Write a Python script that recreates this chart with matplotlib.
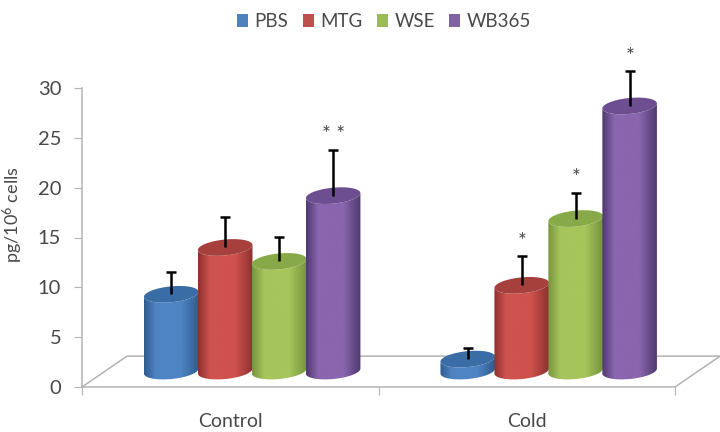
import numpy as np
import matplotlib
matplotlib.use('Agg')
import matplotlib.pyplot as plt
from matplotlib.colors import LinearSegmentedColormap
from matplotlib.patches import Patch, PathPatch
from matplotlib.path import Path

plt.rcParams['font.family'] = ['Lato', 'DejaVu Sans']
plt.rcParams['mathtext.default'] = 'regular'
TXT = '#484848'
GREY = '#b4b4b4'

groups = ['Control', 'Cold']
series = ['PBS', 'MTG', 'WSE', 'WB365']
values = {
    'PBS': [9.3, 2.8],
    'MTG': [14.0, 10.2],
    'WSE': [12.6, 16.9],
    'WB365': [19.2, 28.2],
}
err_tops = {
    'PBS': [11.5, 3.9],
    'MTG': [17.1, 13.1],
    'WSE': [15.1, 19.5],
    'WB365': [23.8, 31.7],
}
stars = {
    'PBS': ['', ''],
    'MTG': ['', '*'],
    'WSE': ['', '*'],
    'WB365': ['* *', '*'],
}
# edge, centre, cap colour
colors = {
    'PBS': ('#2f5c8f', '#4f84c4', '#3a6ca6'),
    'MTG': ('#8c312f', '#cf524e', '#a5403d'),
    'WSE': ('#76953d', '#a6c55b', '#88a947'),
    'WB365': ('#4f396e', '#8966ae', '#6c4e91'),
}
legend_colors = ['#4f81bd', '#c0504d', '#9bbb59', '#8064a2']

BAR_W = 0.184
X_SHIFT = 0.074
BASE = 1.6
CAP_H = 0.8
TILT = 0.25
DX_FLOOR = 0.152
DY_FLOOR = 3.1


def ellipse(cx, y, t):
    return cx + BAR_W / 2 * np.cos(t), y + CAP_H * np.sin(t) + TILT * np.cos(t)


def draw_cylinder(ax, cx, top, cols):
    t = np.linspace(np.pi, 2 * np.pi, 40)
    bx, by = ellipse(cx, BASE, t)
    tx, ty = ellipse(cx, top, t[::-1])
    verts = list(zip(bx, by)) + list(zip(tx, ty)) + [(bx[0], by[0])]
    codes = [Path.MOVETO] + [Path.LINETO] * (len(verts) - 1)
    clip = PathPatch(Path(verts, codes), fc='none', ec='none', transform=ax.transData)
    ax.add_patch(clip)
    cmap = LinearSegmentedColormap.from_list('c', [(0, cols[0]), (0.22, cols[1]), (0.68, cols[1]), (1, cols[0])])
    im = ax.imshow(np.linspace(0, 1, 128)[None, :], extent=(cx - BAR_W / 2, cx + BAR_W / 2, BASE - 2, top + 2),
                   cmap=cmap, aspect='auto', zorder=3, interpolation='bilinear')
    im.set_clip_path(clip)
    ct = np.linspace(0, 2 * np.pi, 80)
    ex, ey = ellipse(cx, top, ct)
    ax.fill(ex, ey, color=cols[2], lw=0, zorder=3)


fig = plt.figure(figsize=(7.2, 4.32), dpi=100)
ax = fig.add_axes([82 / 720, 45 / 432, 593 / 720, 299 / 432])

# floor
ax.plot([-0.5, -0.5 + DX_FLOOR, 1.5 + DX_FLOOR, 1.5], [0, DY_FLOOR, DY_FLOOR, 0],
        color=GREY, lw=1.1, clip_on=False, zorder=1)

for g in range(len(groups)):
    for s, name in enumerate(series):
        cx = g + X_SHIFT + (s - 1.5) * 0.182
        top = values[name][g]
        et = err_tops[name][g]
        draw_cylinder(ax, cx, top, colors[name])
        ax.plot([cx, cx], [top, et], color='black', lw=1.8, zorder=4, clip_on=False, solid_capstyle='butt')
        ax.plot([cx - 0.0165, cx + 0.0165], [et, et], color='black', lw=1.8, zorder=4, clip_on=False,
                solid_capstyle='butt')
        if stars[name][g]:
            ax.text(cx, et + 1.45, stars[name][g], ha='center', va='center', fontsize=15,
                    color=TXT, clip_on=False)

ax.set_xlim(-0.5, 1.5)
ax.set_ylim(0, 30)
ax.set_yticks(range(0, 31, 5))
ax.set_xticks([-0.5, 0.5, 1.5])
ax.set_xticklabels([])
ax.set_xticks([0, 1], minor=True)
ax.set_xticklabels(groups, minor=True)
ax.tick_params(axis='x', which='minor', length=0, pad=19, labelsize=14, labelcolor=TXT)
ax.tick_params(axis='x', which='major', length=6, color=GREY)
ax.tick_params(axis='y', length=6, color=GREY, pad=9, labelsize=14.5, labelcolor=TXT)
for side in ['top', 'right']:
    ax.spines[side].set_visible(False)
for side in ['left', 'bottom']:
    ax.spines[side].set_color(GREY)
    ax.spines[side].set_linewidth(1.1)
ax.set_ylabel('pg/10$^{6}$ cells', fontsize=13, color=TXT)
ax.yaxis.set_label_coords((25 - 82) / 593, (387 - 215) / 299)

handles = [Patch(fc=c, ec='none') for c in legend_colors]
fig.legend(handles, series, loc='upper center', ncol=4, frameon=False, fontsize=13.5, labelcolor=TXT,
           bbox_to_anchor=(384 / 720, 1 + 4 / 432), handlelength=0.6, handleheight=0.7,
           handletextpad=0.35, columnspacing=0.75)

fig.savefig('out.png', dpi=100, facecolor='white')
